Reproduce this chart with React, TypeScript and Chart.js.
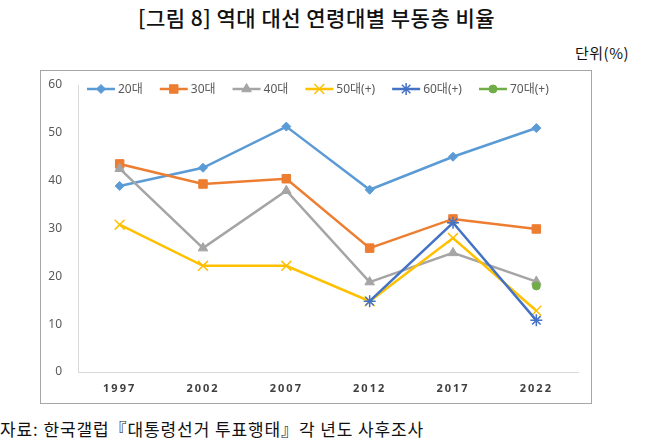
import React, { useEffect, useRef } from "react";
import { Chart, registerables } from "chart.js";
import { drawPoint } from "chart.js/helpers";

Chart.register(...registerables);

const years = ["1997", "2002", "2007", "2012", "2017", "2022"];
const s20 = [38.9, 42.7, 51.3, 38.1, 45.0, 51.0];
const s30 = [43.5, 39.3, 40.4, 25.9, 32.0, 29.9];
const s40 = [42.5, 25.9, 37.9, 18.8, 24.9, 18.9];
const s50 = [30.8, 22.2, 22.2, 14.8, 28.0, 12.8];
const s60 = [null, null, null, 14.8, 31.2, 10.8];
const s70 = [null, null, null, null, null, 18.0];
const seriesNames = ["20대", "30대", "40대", "50대(+)", "60대(+)", "70대(+)"];
const yTicks = [0, 10, 20, 30, 40, 50, 60];

const colors = ["#5B9BD5", "#ED7D31", "#A5A5A5", "#FFC000", "#4472C4", "#70AD47"];
const pointStyles = ["rectRot", "rect", "triangle", "crossRot", "star", "circle"];
const pointRadii = [4.5, 6, 5.5, 7, 6, 4];

const legendPlugin = {
  id: "customLegend",
  afterDraw(chart: any) {
    const { ctx, chartArea } = chart;
    let x = chartArea.left + 9;
    const y = chartArea.top + 4;
    ctx.save();
    ctx.font = "12px 'Noto Sans', 'Noto Sans CJK KR'";
    ctx.textBaseline = "middle";
    ctx.textAlign = "left";
    chart.data.datasets.forEach((ds: any) => {
      ctx.strokeStyle = ds.borderColor;
      ctx.lineWidth = 2.5;
      ctx.beginPath();
      ctx.moveTo(x, y);
      ctx.lineTo(x + 28, y);
      ctx.stroke();
      ctx.fillStyle = ds.pointBackgroundColor;
      ctx.strokeStyle = ds.pointBorderColor;
      ctx.lineWidth = ds.pointBorderWidth;
      drawPoint(ctx, { pointStyle: ds.pointStyle, radius: ds.pointRadius, rotation: 0, borderWidth: ds.pointBorderWidth } as any, x + 14, y);
      ctx.fillStyle = "#595959";
      ctx.fillText(ds.label, x + 31, y + 1);
      x = x + 31 + ctx.measureText(ds.label).width + 17;
    });
    ctx.restore();
  },
};

const spacingPlugin = {
  id: "xLetterSpacing",
  beforeDraw(chart: any) {
    const s = chart.scales.x;
    if (s && !s.__wrapped) {
      const orig = s.drawLabels.bind(s);
      s.drawLabels = (area: any) => {
        const c = chart.ctx;
        c.save();
        c.letterSpacing = "2px";
        orig(area);
        c.restore();
      };
      s.__wrapped = true;
    }
  },
};

export default function App() {
  const ref = useRef<HTMLCanvasElement>(null);
  useEffect(() => {
    if (!ref.current) return;
    const all = [s20, s30, s40, s50, s60, s70];
    const chart = new Chart(ref.current, {
      type: "line",
      data: {
        labels: years,
        datasets: all.map((d, i) => ({
          label: seriesNames[i],
          data: d,
          borderColor: colors[i],
          backgroundColor: colors[i],
          pointBackgroundColor: colors[i],
          pointBorderColor: colors[i],
          pointStyle: pointStyles[i] as any,
          pointRadius: pointRadii[i],
          pointBorderWidth: i === 3 || i === 4 ? 1.5 : 1,
          borderWidth: 2.5,
          tension: 0,
          order: 6 - i,
        })),
      },
      options: {
        animation: false,
        responsive: false,
        maintainAspectRatio: false,
        devicePixelRatio: 1,
        layout: { padding: { top: 14, right: 12, bottom: 0, left: 0 } },
        plugins: { legend: { display: false }, tooltip: { enabled: false }, title: { display: false } },
        scales: {
          x: {
            offset: true,
            grid: { display: false, drawTicks: false },
            border: { display: true, color: "#d9d9d9", width: 1 },
            ticks: { padding: 10, color: "#404040", font: { family: "'Noto Sans'", size: 11, weight: "bold" } },
            afterFit: (s: any) => { s.height = 31; s.paddingLeft = 0; s.paddingRight = 0; },
          },
          y: {
            min: 0,
            max: 60,
            afterBuildTicks: (s: any) => { s.ticks = yTicks.map((v) => ({ value: v })); },
            grid: { display: false, drawTicks: false },
            border: { display: true, color: "#d9d9d9", width: 1 },
            ticks: { padding: 16, color: "#595959", font: { family: "'Noto Sans'", size: 12 } },
            afterFit: (s: any) => { s.width = 37; s.paddingTop = 0; s.paddingBottom = 0; },
          },
        },
      },
      plugins: [legendPlugin, spacingPlugin],
    });
    return () => chart.destroy();
  }, []);

  return (
    <div style={{ position: "absolute", left: 0, top: 0, width: 657, height: 446, background: "#fff", overflow: "hidden" }}>
      <div style={{ position: "absolute", left: 138, top: 3, fontFamily: "'Noto Sans CJK KR'", fontWeight: 500, fontSize: 21, letterSpacing: "0.5px", color: "#111", whiteSpace: "nowrap", lineHeight: "28px" }}>
        [그림 8] 역대 대선 연령대별 부동층 비율
      </div>
      <div style={{ position: "absolute", left: 575, top: 42, fontFamily: "'Noto Sans CJK KR'", fontSize: 15, letterSpacing: "0.5px", color: "#111", whiteSpace: "nowrap", lineHeight: "22px" }}>
        단위(%)
      </div>
      <div style={{ position: "absolute", left: 40, top: 70, width: 552, height: 334, border: "1px solid #a6a6a6", boxSizing: "border-box" }} />
      <canvas ref={ref} width={549} height={332} style={{ position: "absolute", left: 41, top: 71, width: 549, height: 332 }} />
      <div style={{ position: "absolute", left: 0, top: 417, fontFamily: "'Noto Sans CJK KR'", fontSize: 17, letterSpacing: "0.9px", color: "#111", whiteSpace: "nowrap", lineHeight: "24px" }}>
        자료: 한국갤럽『대통령선거 투표행태』각 년도 사후조사
      </div>
    </div>
  );
}
